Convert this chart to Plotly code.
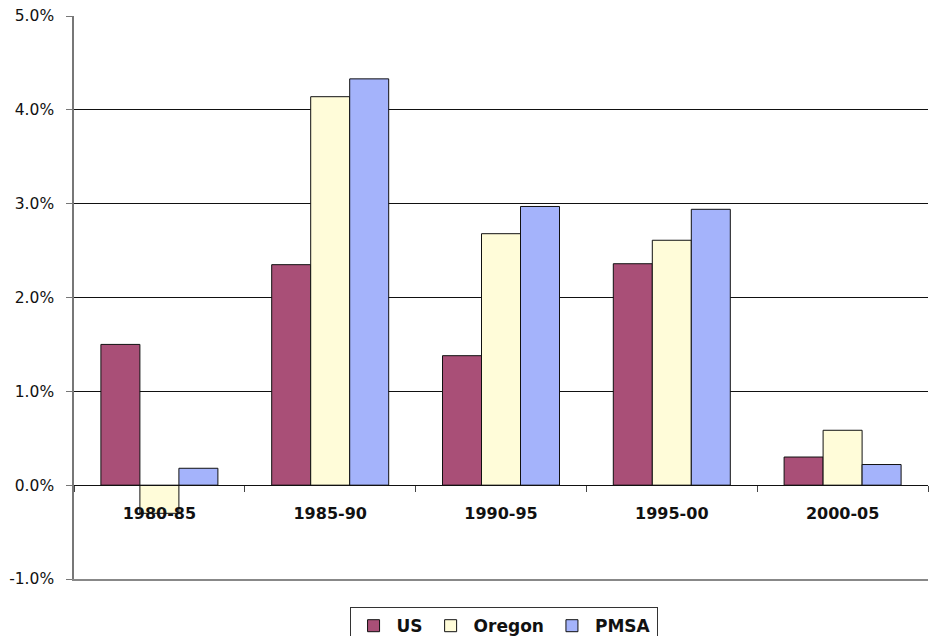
import plotly.graph_objects as go

categories = ["1980-85", "1985-90", "1990-95", "1995-00", "2000-05"]
us = [1.50, 2.35, 1.38, 2.36, 0.30]
oregon = [-0.30, 4.14, 2.68, 2.61, 0.585]
pmsa = [0.18, 4.33, 2.97, 2.94, 0.22]
y_ticks = [-1, 0, 1, 2, 3, 4, 5]
y_tick_labels = ["-1.0%", "0.0%", "1.0%", "2.0%", "3.0%", "4.0%", "5.0%"]

series = [("US", us, "#A94F77"), ("Oregon", oregon, "#FFFCD9"), ("PMSA", pmsa, "#A4B3FB")]

fig = go.Figure()
for name, vals, col in series:
    fig.add_trace(go.Bar(
        x=categories, y=vals, name=name,
        marker=dict(color=col, line=dict(color="#111111", width=1)),
    ))
# empty helper trace so the bottom frame axis gets drawn
fig.add_trace(go.Scatter(x=[], y=[], xaxis="x2", yaxis="y",
                         showlegend=False, hoverinfo="skip"))

font_family = "DejaVu Sans"
fig.update_layout(
    width=932, height=636,
    margin=dict(l=74, r=4, t=16, b=57, autoexpand=False),
    plot_bgcolor="white", paper_bgcolor="white",
    barmode="group", bargap=0.315, bargroupgap=0,
    font=dict(family=font_family, size=16, color="#111111"),
    showlegend=True,
    legend=dict(
        orientation="h", x=0.503, xanchor="center", y=-0.05, yanchor="top",
        bordercolor="#333333", borderwidth=1,
        font=dict(family=font_family, size=17, color="#111111", weight="bold"),
        itemwidth=36, traceorder="normal",
    ),
    xaxis=dict(
        type="category", range=[-0.5, 4.5],
        anchor="free", position=1/6, automargin=False,
        showline=True, linecolor="#111111", linewidth=1,
        ticks="outside", tickson="boundaries", ticklen=6, tickcolor="#444444",
        ticklabelstandoff=14,
        tickfont=dict(family=font_family, size=16, weight="bold", color="#111111"),
        showgrid=False, zeroline=False,
    ),
    xaxis2=dict(
        overlaying="x", anchor="y", side="bottom", range=[0, 1],
        showline=True, linecolor="#888888", linewidth=1.5,
        showticklabels=False, ticks="", showgrid=False, zeroline=False,
        automargin=False,
    ),
    yaxis=dict(
        range=[-1, 5], tickvals=y_ticks, ticktext=y_tick_labels,
        automargin=False,
        showline=True, linecolor="#777777", linewidth=1.5,
        ticks="outside", ticklen=6, tickcolor="#777777",
        ticklabelstandoff=9,
        showgrid=True, gridcolor="#111111", gridwidth=1,
        zeroline=False,
        tickfont=dict(family=font_family, size=15.5, color="#111111"),
    ),
)

fig.write_html(
    "out.html",
    config={"displayModeBar": False},
    post_script="document.body.style.margin='0';document.body.style.overflow='hidden';",
)
